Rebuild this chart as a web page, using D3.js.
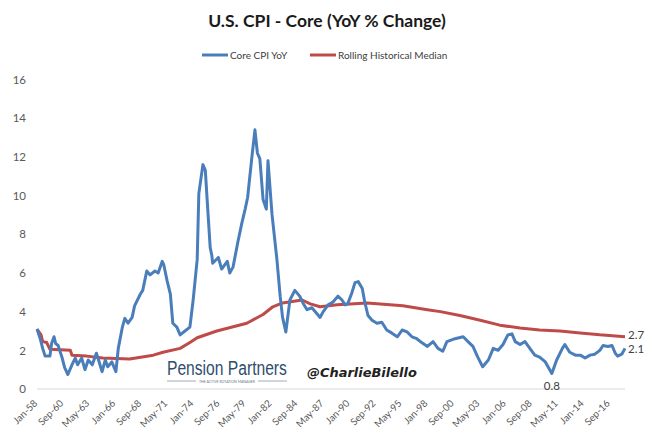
<!DOCTYPE html>
<html>
<head>
<meta charset="utf-8">
<script src="https://cdn.jsdelivr.net/npm/d3@7"></script>
<style>
  body { margin: 0; background: #fff; }
  svg { display: block; }
</style>
</head>
<body>
<div id="chart"></div>
<script>
// Core CPI YoY (month, %)
const cpiDates = [
  "1958-01","1958-05","1958-08","1958-11","1959-05","1959-07","1959-10","1959-12",
  "1960-03","1960-08","1960-11","1961-03","1961-08","1961-12","1962-03","1962-08",
  "1962-12","1963-04","1963-09","1964-02","1964-04","1964-09","1965-01","1965-04",
  "1965-09","1966-02","1966-05","1966-10","1967-01","1967-05","1967-10","1968-01",
  "1968-08","1968-11","1969-04","1969-08","1970-02","1970-06","1970-11","1971-01",
  "1971-05","1971-09","1971-12","1972-05","1972-09","1973-03","1973-09","1974-01",
  "1974-06","1974-08","1975-01","1975-04","1975-07","1975-10","1975-12","1976-01",
  "1976-08","1976-12","1977-07","1977-10","1978-02","1978-08","1979-01","1979-05",
  "1979-08","1980-01","1980-05","1980-08","1980-11","1981-03","1981-07","1981-09",
  "1982-02","1982-08","1982-12","1983-03","1983-07","1983-12","1984-06","1984-12",
  "1985-04","1985-09","1986-03","1986-09","1987-01","1987-05","1987-11","1988-05",
  "1988-11","1989-04","1989-08","1989-11","1990-04","1990-08","1990-12","1991-05",
  "1991-08","1991-12","1992-05","1992-11","1993-05","1993-11","1994-05","1994-12",
  "1995-06","1995-12","1996-06","1996-12","1997-06","1998-01","1998-08","1999-02",
  "1999-08","2000-01","2000-11","2001-09","2002-03","2002-09","2003-03","2003-09",
  "2004-04","2004-10","2005-04","2005-10","2006-04","2006-09","2007-01","2007-07",
  "2008-01","2008-07","2009-01","2009-07","2010-02","2010-10","2011-04","2011-11",
  "2012-02","2012-08","2013-03","2013-09","2014-03","2014-09","2015-03","2015-09",
  "2016-01","2016-07","2016-12","2017-04","2017-07","2017-12","2018-04"
];
const cpiValues = [
  3.1, 2.6, 2.1, 1.7, 1.7, 2.35, 2.7, 2.35,
  2.25, 1.6, 1.1, 0.75, 1.25, 1.6, 1.25, 1.6,
  1.0, 1.5, 1.25, 1.85, 1.6, 0.9, 1.5, 1.15,
  1.4, 0.9, 2.1, 3.2, 3.65, 3.4, 3.7, 4.3,
  4.9, 5.1, 6.1, 5.9, 6.1, 6.0, 6.6, 6.4,
  5.6, 4.9, 3.4, 3.2, 2.8, 3.0, 3.2, 4.6,
  6.7, 10.1, 11.6, 11.3, 9.3, 7.3, 6.9, 6.5,
  6.8, 6.2, 6.6, 6.0, 6.3, 7.6, 8.6, 9.3,
  9.9, 11.9, 13.4, 12.2, 11.9, 9.8, 9.3, 11.8,
  9.0, 6.7, 4.8, 3.7, 2.95, 4.6, 5.1, 4.8,
  4.45, 4.1, 4.2, 3.9, 3.7, 4.0, 4.35, 4.5,
  4.8, 4.6, 4.35, 4.4, 4.95, 5.5, 5.55, 5.2,
  4.5, 3.8, 3.55, 3.4, 3.45, 3.05, 2.9, 2.7,
  3.05, 2.95, 2.7, 2.6, 2.4, 2.2, 2.45, 2.1,
  1.95, 2.45, 2.6, 2.7, 2.45, 2.2, 1.65, 1.15,
  1.5, 2.1, 2.0, 2.3, 2.8, 2.85, 2.45, 2.3,
  2.45, 2.1, 1.75, 1.65, 1.4, 0.8, 1.5, 2.1,
  2.3, 1.9, 1.75, 1.75, 1.6, 1.75, 1.8, 2.0,
  2.25, 2.2, 2.25, 1.85, 1.7, 1.8, 2.1
];

// Rolling historical median
const medianDates = [
  "1958-01","1958-06","1958-08","1959-01","1959-05","1961-06","1961-08","1963-02",
  "1964-10","1967-07","1969-12","1970-12","1972-09","1973-09","1974-06","1976-06",
  "1979-07","1981-03","1982-03","1983-03","1985-03","1986-01","1987-01","1988-10",
  "1991-11","1995-07","1998-01","1999-05","2001-05","2003-06","2005-06","2007-07",
  "2009-07","2011-08","2013-09","2015-09","2018-04"
];
const medianValues = [
  3.1, 2.8, 2.45, 2.4, 2.05, 2.0, 1.75, 1.7,
  1.6, 1.55, 1.75, 1.9, 2.1, 2.4, 2.65, 3.0,
  3.4, 3.85, 4.25, 4.45, 4.6, 4.4, 4.25, 4.35,
  4.45, 4.3, 4.1, 4.0, 3.8, 3.55, 3.3, 3.15,
  3.05, 3.0, 2.9, 2.8, 2.7
];

const tickDates = [
  "1958-01","1960-09","1963-05","1966-01","1968-09","1971-05","1974-01","1976-09",
  "1979-05","1982-01","1984-09","1987-05","1990-01","1992-09","1995-05","1998-01",
  "2000-09","2003-05","2006-01","2008-09","2011-05","2014-01","2016-09"
];
const yTicks = [0, 2, 4, 6, 8, 10, 12, 14, 16];
const cpiLabelDate = "2010-10";

const width = 650, height = 442;
const blue = "#4a7ebb", red = "#be4b48";
const parse = d3.timeParse("%Y-%m");

const cpi = cpiDates.map((d, i) => ({date: parse(d), value: cpiValues[i]}));
const median = medianDates.map((d, i) => ({date: parse(d), value: medianValues[i]}));

const svg = d3.select("#chart").append("svg")
    .attr("width", width)
    .attr("height", height)
    .style("font-family", "Lato, 'Open Sans', sans-serif");

const x = d3.scaleTime()
    .domain([parse("1958-01"), parse("2018-04")])
    .range([37, 625]);
const y = d3.scaleLinear()
    .domain([0, 16])
    .range([389, 79.5]);

// title + legend
svg.append("text")
    .attr("x", 327).attr("y", 27)
    .attr("text-anchor", "middle")
    .attr("font-size", 17.5).attr("font-weight", "bold")
    .attr("fill", "#1a1a1a")
    .text("U.S. CPI - Core (YoY % Change)");

const legend = svg.append("g").attr("font-size", 10).attr("fill", "#404040");
[[blue, "Core CPI YoY", 202], [red, "Rolling Historical Median", 310]].forEach(([c, t, lx]) => {
  legend.append("line")
      .attr("x1", lx).attr("x2", lx + 26).attr("y1", 55).attr("y2", 55)
      .attr("stroke", c).attr("stroke-width", 3);
  legend.append("text").attr("x", lx + 28).attr("y", 58.5).text(t);
});

// y axis labels (no axis line)
svg.append("g")
    .attr("transform", "translate(26,0)")
    .call(d3.axisLeft(y).tickValues(yTicks).tickSize(0).tickPadding(0))
    .call(g => g.select(".domain").remove())
    .call(g => g.selectAll("text")
        .attr("fill", "#595959").attr("font-size", 11.5)
        .attr("font-family", "Lato, sans-serif"));

// x axis
const fmt = d3.timeFormat("%b-%y");
svg.append("line")
    .attr("x1", 37).attr("x2", 625).attr("y1", y(0)).attr("y2", y(0))
    .attr("stroke", "#d9d9d9").attr("stroke-width", 1);
svg.append("g").selectAll("text")
  .data(tickDates.map(parse))
  .enter().append("text")
    .attr("transform", d => "translate(" + (x(d) + 1) + "," + (y(0) + 15) + ") rotate(-45)")
    .attr("text-anchor", "end")
    .attr("font-size", 9.8)
    .attr("fill", "#595959")
    .text(fmt);

// watermark (squeezed horizontally so it keeps its real width)
const wm = svg.append("g");
const brand = wm.append("text")
    .attr("font-family", "'Liberation Sans Narrow', 'Liberation Sans', sans-serif")
    .attr("font-size", 21)
    .attr("fill", "#2f4d6e")
    .text("Pension Partners");
const bw = brand.node().getComputedTextLength();
brand.attr("transform", "translate(167,375) scale(" + (120 / bw) + ",1)");
wm.append("line").attr("x1", 167).attr("x2", 196).attr("y1", 381).attr("y2", 381)
    .attr("stroke", "#8a97a8").attr("stroke-width", 0.8);
wm.append("line").attr("x1", 258).attr("x2", 287).attr("y1", 381).attr("y2", 381)
    .attr("stroke", "#8a97a8").attr("stroke-width", 0.8);
wm.append("text")
    .attr("x", 227).attr("y", 382.5)
    .attr("text-anchor", "middle")
    .attr("font-size", 3.5)
    .attr("fill", "#6b7788")
    .text("THE ACTIVE ROTATION MANAGER");
const handle = wm.append("text")
    .attr("font-family", "'DejaVu Sans', sans-serif")
    .attr("font-size", 13).attr("font-weight", "bold").attr("font-style", "italic")
    .attr("fill", "#222")
    .text("@CharlieBilello");
const hw = handle.node().getComputedTextLength();
handle.attr("transform", "translate(307,377) scale(" + (110 / hw) + ",1)");

// lines
const line = d3.line().x(d => x(d.date)).y(d => y(d.value));

svg.append("path")
    .datum(median)
    .attr("fill", "none")
    .attr("stroke", red)
    .attr("stroke-width", 3)
    .attr("stroke-linejoin", "round")
    .attr("d", line);

svg.append("path")
    .datum(cpi)
    .attr("fill", "none")
    .attr("stroke", blue)
    .attr("stroke-width", 3)
    .attr("stroke-linejoin", "round")
    .attr("d", line);

// data labels
const f1 = d3.format(".1f");
const lastCpi = cpi[cpi.length - 1], lastMed = median[median.length - 1];
const lowCpi = cpi.find(d => d.date.getTime() === parse(cpiLabelDate).getTime());
const labels = svg.append("g").attr("font-size", 11.5).attr("fill", "#404040");
labels.append("text").attr("x", x(lastMed.date) + 3).attr("y", y(lastMed.value) + 2.5).text(f1(lastMed.value));
labels.append("text").attr("x", x(lastCpi.date) + 3).attr("y", y(lastCpi.value) + 5).text(f1(lastCpi.value));
labels.append("text").attr("x", x(lowCpi.date)).attr("y", y(lowCpi.value) + 16)
    .attr("text-anchor", "middle").text(f1(lowCpi.value));
</script>
</body>
</html>
